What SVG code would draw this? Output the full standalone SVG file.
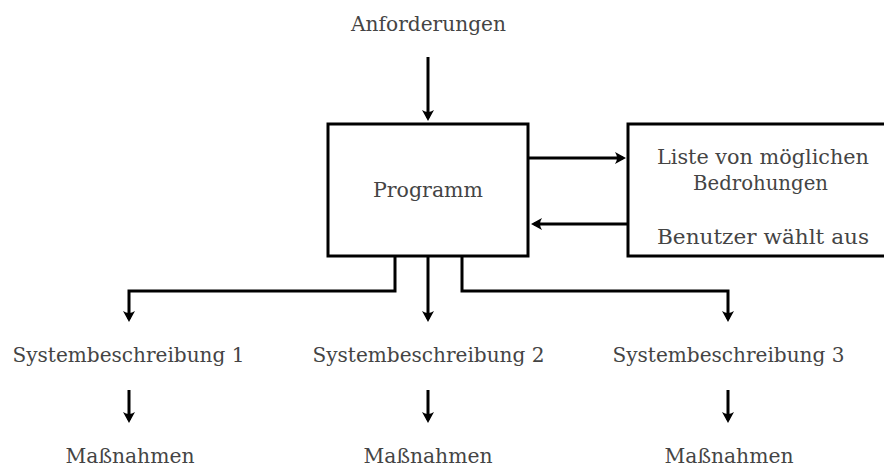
<svg xmlns="http://www.w3.org/2000/svg" width="884" height="468" viewBox="0 0 884 468">
<style>
.box{fill:#fff;stroke:#000;stroke-width:3}
.t{fill:#444;text-anchor:middle}
.c{fill:none;stroke:#000;stroke-width:3;marker-end:url(#ah)}
</style>
<defs>
<marker id="ah" markerUnits="userSpaceOnUse" markerWidth="14" markerHeight="14" viewBox="0 0 14 14" refX="9" refY="7" orient="auto">
<path d="M12,7 L1,1 Q5,7 1,13 Z" fill="#000"/>
</marker>
</defs>
<rect width="884" height="468" fill="#fff"/>
<g id="connectors">
<path class="c" d="M428,57 V118"/>
<path class="c" d="M528,158 H623"/>
<path class="c" d="M628,224 H534"/>
<path class="c" d="M395,257 V291 H129 V319"/>
<path class="c" d="M428,257 V319"/>
<path class="c" d="M462,257 V291 H728 V319"/>
<path class="c" d="M129,390 V420"/>
<path class="c" d="M428,390 V420"/>
<path class="c" d="M728,390 V420"/>
</g>
<g font-family="DejaVu Serif, Liberation Serif, serif" font-size="20">
<g id="anforderungen"><text class="t" x="428.5" y="31" textLength="155" lengthAdjust="spacingAndGlyphs">Anforderungen</text></g>
<g id="programm">
<rect class="box" x="328" y="124" width="200" height="132"/>
<text class="t" x="428" y="196.5" textLength="110" lengthAdjust="spacingAndGlyphs">Programm</text>
</g>
<g id="liste">
<rect class="box" x="628" y="124" width="270" height="132"/>
<text class="t" x="763" y="164" textLength="212" lengthAdjust="spacingAndGlyphs">Liste von möglichen</text>
<text class="t" x="760.5" y="190" textLength="135" lengthAdjust="spacingAndGlyphs">Bedrohungen</text>
<text class="t" x="763" y="244" textLength="212" lengthAdjust="spacingAndGlyphs">Benutzer wählt aus</text>
</g>
<g id="sys1"><text class="t" x="128.5" y="362" textLength="232" lengthAdjust="spacingAndGlyphs">Systembeschreibung 1</text></g>
<g id="sys2"><text class="t" x="428.5" y="362" textLength="232" lengthAdjust="spacingAndGlyphs">Systembeschreibung 2</text></g>
<g id="sys3"><text class="t" x="728.5" y="362" textLength="232" lengthAdjust="spacingAndGlyphs">Systembeschreibung 3</text></g>
<g id="mass1"><text class="t" x="130" y="463" textLength="129" lengthAdjust="spacingAndGlyphs">Maßnahmen</text></g>
<g id="mass2"><text class="t" x="428" y="463" textLength="129" lengthAdjust="spacingAndGlyphs">Maßnahmen</text></g>
<g id="mass3"><text class="t" x="729" y="463" textLength="129" lengthAdjust="spacingAndGlyphs">Maßnahmen</text></g>
</g>
</svg>
